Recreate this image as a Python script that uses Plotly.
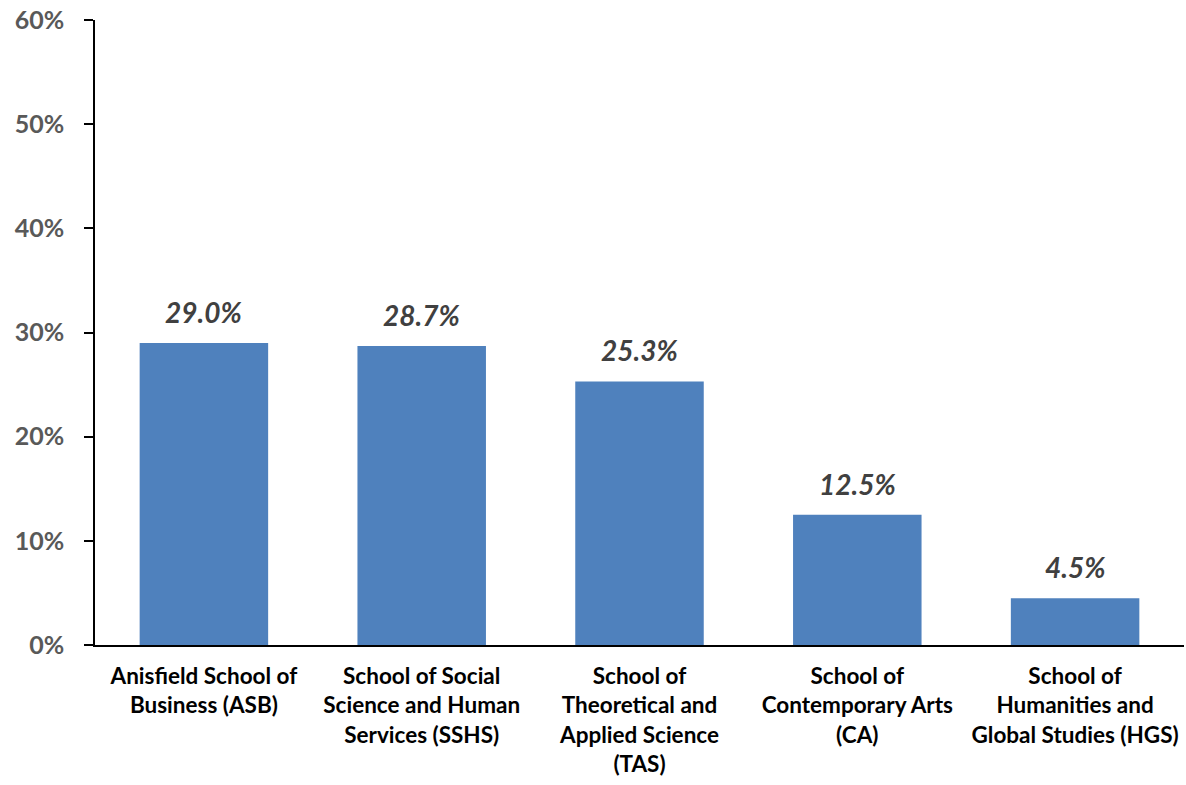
import plotly.graph_objects as go

schools = [
    'Anisfield School of<br>Business (ASB)',
    'School of Social<br>Science and Human<br>Services (SSHS)',
    'School of<br>Theoretical and<br>Applied Science<br>(TAS)',
    'School of<br>Contemporary Arts<br>(CA)',
    'School of<br>Humanities and<br>Global Studies (HGS)',
]
shares = [0.290, 0.287, 0.253, 0.125, 0.045]

fig = go.Figure()
fig.add_bar(x=schools, y=shares, marker=dict(color='#4F81BD', line=dict(width=0)))

for s, v in zip(schools, shares):
    fig.add_annotation(x=s, y=v, text=f'<b><i>{v*100:.1f}%</i></b>', showarrow=False,
                       yanchor='bottom', yshift=12,
                       font=dict(family='Lato', size=28, color='#404040'))

fig.update_layout(
    width=1186, height=785,
    margin=dict(l=95, r=2, t=20, b=140),
    paper_bgcolor='white', plot_bgcolor='white',
    bargap=0.41,
    showlegend=False,
    font=dict(family='Lato'),
    xaxis=dict(showline=True, linecolor='black', linewidth=2, ticks='',
               automargin=False, ticklabeloverflow='allow',
               tickfont=dict(family='Lato', size=22.5, color='black', weight='bold'),
               ticklabelstandoff=10),
    yaxis=dict(range=[0, 0.6], dtick=0.1, tickformat='.0%', showgrid=False,
               zeroline=False, showline=True, linecolor='black', linewidth=1.5,
               automargin=False, ticklabeloverflow='allow',
               ticks='outside', ticklen=9, tickcolor='black', tickwidth=1.5,
               ticklabelstandoff=15,
               tickfont=dict(family='Lato', size=25, color='#595959', weight='bold')),
)

# drop the browser's default body margin so the figure fills the window
fig.write_html('out.html', config={'displayModeBar': False},
               post_script="document.body.style.margin='0';document.body.style.overflow='hidden';")
